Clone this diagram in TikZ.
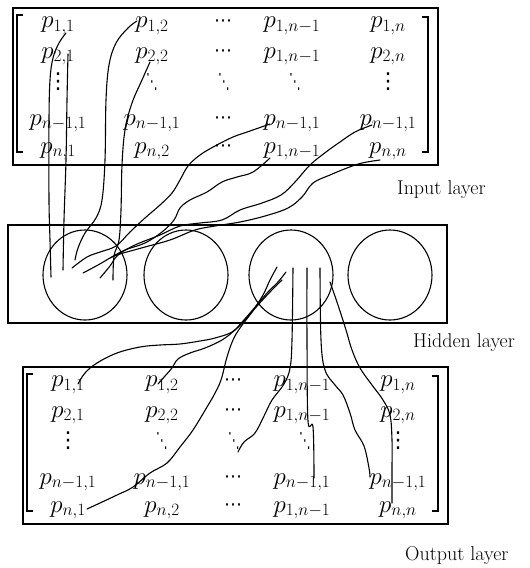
\documentclass[tikz,border=0pt]{standalone}
\usepackage{fontspec}
\usepackage{amsmath}
\usepackage{graphicx}
\usetikzlibrary{shapes.geometric}
\newfontfamily\dvsans{DejaVu Sans}
\newcommand\vd{{\dvsans\fontsize{22}{24}\selectfont ⋮}}
\newcommand\dd{\scalebox{0.55}[1]{\dvsans\fontsize{21}{24}\selectfont ⋱}}
\newcommand\cd{{\dvsans\fontsize{18}{24}\selectfont ⋯}}
\newcommand\pmatblock[1]{%
  \draw[frame] (13,8) rectangle (438,165);
  \draw[brk] (23,15) -- (17,15) -- (17,152) -- (23,152);
  \draw[brk] (422,17) -- (428,17) -- (428,152) -- (422,152);
  % row 1
  \node[ent] (#1r1c1) at (58,27.5) {$p_{1,1}$};
  \node[ent] (#1r1c2) at (152,27.5) {$p_{1,2}$};
  \node[dotn] (#1r1c3) at (223,23) {\cd};
  \node[ent] (#1r1c4) at (292,27.5) {$p_{1,n-1}$};
  \node[ent] (#1r1c5) at (388,27.5) {$p_{1,n}$};
  % row 2
  \node[ent] (#1r2c1) at (58,58) {$p_{2,1}$};
  \node[ent] (#1r2c2) at (152,58) {$p_{2,2}$};
  \node[dotn] (#1r2c3) at (223,53.5) {\cd};
  \node[ent] (#1r2c4) at (292,58) {$p_{1,n-1}$};
  \node[ent] (#1r2c5) at (388,58) {$p_{2,n}$};
  % row 3
  \node[dotn] (#1r3c1) at (58,82) {\vd};
  \node[dotn] (#1r3c2) at (152,82) {\dd};
  \node[dotn] (#1r3c3) at (224,82) {\dd};
  \node[dotn] (#1r3c4) at (295,82) {\dd};
  \node[dotn] (#1r3c5) at (388,82) {\vd};
  % row 4
  \node[ent] (#1r4c1) at (58,125) {$p_{n-1,1}$};
  \node[ent] (#1r4c2) at (152,125) {$p_{n-1,1}$};
  \node[dotn] (#1r4c3) at (223,120.5) {\cd};
  \node[ent] (#1r4c4) at (292,125) {$p_{n-1,1}$};
  \node[ent] (#1r4c5) at (388,125) {$p_{n-1,1}$};
  % row 5
  \node[ent] (#1r5c1) at (58,153) {$p_{n,1}$};
  \node[ent] (#1r5c2) at (152,153) {$p_{n,2}$};
  \node[dotn] (#1r5c3) at (223,148.5) {\cd};
  \node[ent] (#1r5c4) at (292,153) {$p_{1,n-1}$};
  \node[ent] (#1r5c5) at (388,153) {$p_{n,n}$};
}
\begin{document}
\begin{tikzpicture}[x=1pt,y=-1pt,
  ent/.style={font=\fontsize{26}{30}\selectfont, anchor=base, inner sep=0pt},
  dotn/.style={anchor=center, inner sep=0pt},
  frame/.style={draw=black, line width=1.6pt},
  brk/.style={draw=black, line width=1.1pt},
  unit/.style={draw=black, ellipse, line width=1.1pt, minimum width=84pt, minimum height=90pt, inner sep=0pt},
  wire/.style={draw=black, line width=1.1pt, line join=round, line cap=round},
  lbl/.style={font=\fontsize{20}{24}\selectfont, anchor=base west, inner sep=0pt}]
\useasboundingbox (0,0) rectangle (530,568);

% input matrix
\pmatblock{in}
% output matrix
\begin{scope}[shift={(10,359)}]
\pmatblock{out}
\end{scope}

% hidden layer
\draw[frame, line width=1.4pt] (8,225) rectangle (447,323);
\node[unit] (h1) at (85,275) {};
\node[unit] (h2) at (186,275) {};
\node[unit] (h3) at (291,275) {};
\node[unit] (h4) at (390,275) {};

% labels
\node[lbl] (inl) at (397,194) {Input layer};
\node[lbl] (hidl) at (413,347) {Hidden layer};
\node[lbl] (outl) at (405,560) {Output layer};

% input -> hidden wires
\draw[wire] plot[smooth, tension=0.6] coordinates {(66,33) (59,43) (53,58) (50,80) (49,120) (49,200) (50,240) (51,277)};
\draw[wire] plot[smooth, tension=0.6] coordinates {(68,54) (67,100) (66,160) (64,220) (63,270)};
\draw[wire] plot[smooth, tension=0.6] coordinates {(137,21) (128,28) (116,43) (109,65) (106,100) (105,160) (102,200) (96,218) (85,233) (78,248) (75,260)};
\draw[wire] plot[smooth, tension=0.6] coordinates {(150,62) (142,80) (132,103) (125,130) (122,165) (121,210) (119,240) (114,256) (113,280)};
\draw[wire] plot[smooth, tension=0.6] coordinates {(270,124) (250,131) (233,137) (215,146) (200,155) (188,166) (180,180) (172,193) (160,205) (145,218) (130,232) (116,246) (100,252) (87,257) (72,268)};
\draw[wire] plot[smooth, tension=0.6] coordinates {(270,158) (253,172) (237,177) (222,182) (207,192) (190,200) (180,208) (174,220) (162,232) (145,243) (125,250) (110,258) (98,265) (83,273)};
\draw[wire] plot[smooth, tension=0.6] coordinates {(372,125) (355,132) (340,142) (326,152) (310,165) (295,182) (281,195) (262,203) (240,210) (222,220) (200,223) (180,226) (160,235) (135,245) (118,255) (110,266) (100,278)};
\draw[wire] plot[smooth, tension=0.6] coordinates {(380,160) (362,163) (347,168) (330,175) (313,183) (302,197) (288,208) (265,216) (240,222) (215,226) (195,230) (170,240) (145,247) (120,254) (110,258)};

% hidden -> output wires
\draw[wire] plot[smooth, tension=0.6] coordinates {(286,272) (278,282) (268,292) (256,306) (243,321) (232,332) (215,338) (200,341) (180,344) (160,345) (140,347) (117,353) (97,363) (85,373) (78,384)};
\draw[wire] plot[smooth, tension=0.6] coordinates {(282,280) (270,292) (258,305) (245,320) (235,330) (222,340) (205,348) (190,353) (178,359) (172,368) (165,376) (158,384)};
\draw[wire] plot[smooth, tension=0.6] coordinates {(277,267) (270,280) (263,295) (252,312) (240,328) (233,340) (227,357) (221,380) (214,395) (207,407) (193,430) (180,447) (167,463) (150,473) (133,487) (117,495) (100,503) (87,509)};
\draw[wire] plot[smooth, tension=0.6] coordinates {(293,268) (292,340) (290,368) (284,384) (272,400) (264,416) (255,433) (244,442) (238,452)};
\draw[wire] plot[smooth, tension=0.6] coordinates {(307,268) (307,340) (308,421) (313,427) (314,478)};
\draw[wire] plot[smooth, tension=0.6] coordinates {(320,268) (321,340) (325,370) (335,385) (343,395) (350,413) (355,430) (364,446) (369,468) (370,477)};
\draw[wire] plot[smooth, tension=0.6] coordinates {(330,282) (338,305) (346,330) (352,350) (360,368) (372,385) (383,400) (390,415) (392,440) (392,470) (392,503)};
\end{tikzpicture}
\end{document}
